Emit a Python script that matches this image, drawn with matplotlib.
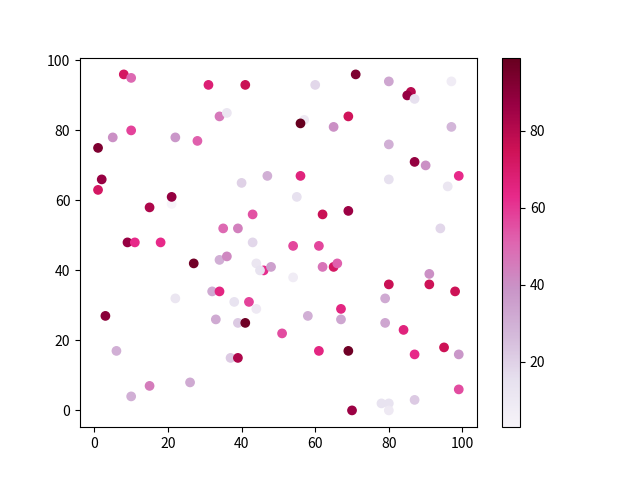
import matplotlib
matplotlib.use("Agg")
import matplotlib.pyplot as plt

plt.rcParams['font.family'] = ['Noto Sans CJK SC', 'DejaVu Sans']

# point positions and colour values
x = [8, 10, 31, 41, 34, 36, 5, 10, 22, 28,
     1, 2, 1, 21, 21, 15, 40, 47, 43, 35,
     39, 71, 60, 80, 97, 86, 85, 87, 57, 56,
     65, 69, 97, 80, 87, 90, 99, 80, 96, 56,
     55, 62, 69, 94, 9, 11, 18, 43, 27, 34,
     36, 44, 46, 45, 48, 22, 32, 34, 38, 42,
     44, 3, 33, 39, 41, 6, 37, 39, 15, 26,
     10, 54, 61, 62, 65, 66, 54, 80, 91, 91,
     98, 79, 67, 58, 67, 79, 84, 51, 61, 69,
     87, 95, 99, 99, 87, 78, 80, 80, 70]
y = [96, 95, 93, 93, 84, 85, 78, 80, 78, 77,
     75, 66, 63, 59, 61, 58, 65, 67, 56, 52,
     52, 96, 93, 94, 94, 91, 90, 89, 83, 82,
     81, 84, 81, 76, 71, 70, 67, 66, 64, 67,
     61, 56, 57, 52, 48, 48, 48, 48, 42, 43,
     44, 42, 40, 40, 41, 32, 34, 34, 31, 31,
     29, 27, 26, 25, 25, 17, 15, 15, 7, 8,
     4, 47, 47, 41, 41, 42, 38, 36, 39, 36,
     34, 32, 29, 27, 26, 25, 23, 22, 17, 17,
     16, 18, 16, 6, 3, 2, 2, 0, 0]
colors = [72, 50, 68, 76, 46, 12, 40, 58, 38, 52,
          93, 87, 72, 3, 88, 82, 20, 30, 55, 50,
          44, 93, 18, 33, 8, 80, 87, 15, 10, 99,
          40, 74, 28, 30, 88, 40, 63, 15, 12, 66,
          15, 76, 86, 18, 87, 63, 63, 18, 96, 30,
          42, 12, 62, 14, 35, 12, 32, 65, 14, 58,
          10, 90, 32, 22, 97, 30, 22, 82, 45, 32,
          30, 57, 57, 47, 72, 52, 8, 76, 40, 75,
          75, 32, 65, 30, 33, 33, 66, 56, 65, 97,
          63, 75, 38, 56, 22, 14, 14, 10, 86]

fig, ax = plt.subplots(figsize=(6.4, 4.8), dpi=100)
sc = ax.scatter(x, y, c=colors, cmap="PuRd")
fig.colorbar(sc, ax=ax)
fig.savefig("out.png")
